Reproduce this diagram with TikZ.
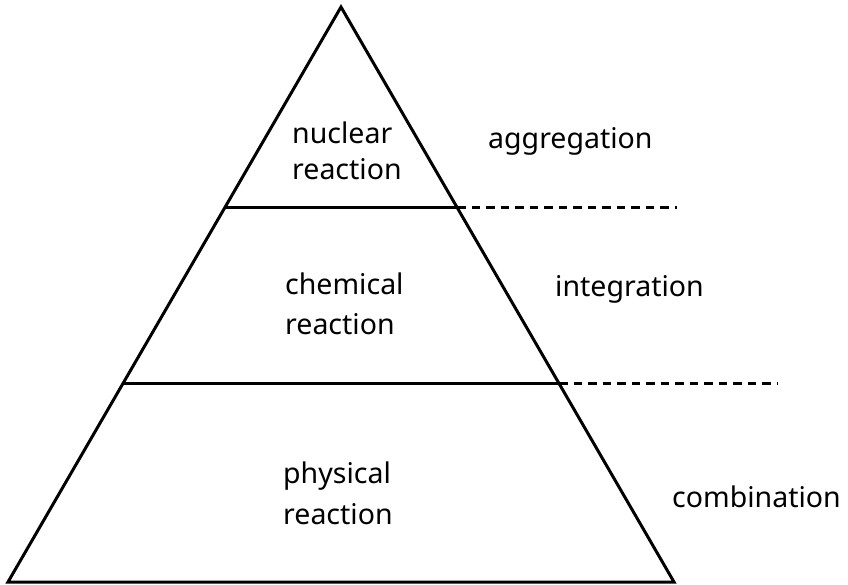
\documentclass[tikz,border=0pt]{standalone}
\usepackage{fontspec}
\setmainfont{Noto Sans}
\begin{document}
\begin{tikzpicture}[x=1pt,y=-1pt,
  edge/.style={line width=3pt,line join=miter},
  guide/.style={line width=3pt,dash pattern=on 8.5pt off 6pt},
  lbl/.style={inner sep=0pt,anchor=base west,align=left,font=\fontsize{28.5}{38}\selectfont}]
\useasboundingbox (0,0) rectangle (848,584);
\coordinate (apex) at (341,7);
\coordinate (bl) at (8,582);
\coordinate (br) at (674,582);
\coordinate (l1) at (225,207);
\coordinate (r1) at (457,207);
\coordinate (e1) at (677,207);
\coordinate (l2) at (123,383);
\coordinate (r2) at (559,383);
\coordinate (e2) at (777,383);
\draw[edge] (apex) -- (bl) -- (br) -- cycle;
\draw[edge] (l1) -- (r1);
\draw[edge] (l2) -- (r2);
\draw[guide] (r1) -- (e1);
\draw[guide] (r2) -- (e2);
\node[lbl,font=\fontsize{28.5}{36}\selectfont] (nuc) at (292,179) {nuclear\\reaction};
\node[lbl,font=\fontsize{28.5}{39.5}\selectfont] (chem) at (285,334) {chemical\\reaction};
\node[lbl,font=\fontsize{28.5}{40.5}\selectfont] (phys) at (283,524) {physical\\reaction};
\node[lbl] (agg) at (488,148) {aggregation};
\node[lbl] (int) at (555,296) {integration};
\node[lbl] (comb) at (672,507) {combination};
\end{tikzpicture}
\end{document}
